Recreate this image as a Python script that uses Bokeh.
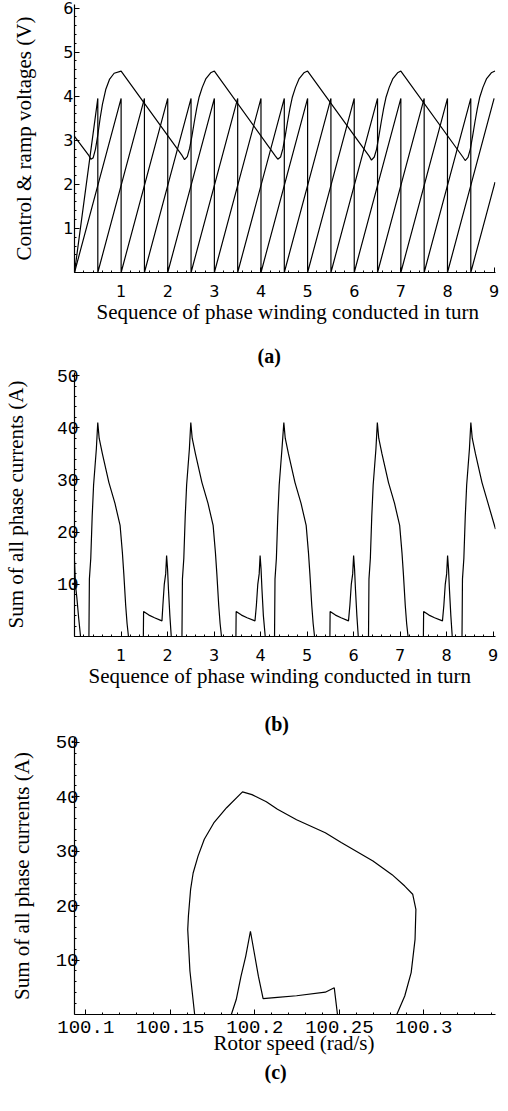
from bokeh.plotting import figure
from bokeh.models import Range1d, FixedTicker, Title, Column
from bokeh.embed import file_html
from bokeh.resources import INLINE

# ---------------- data: panel (a) ----------------
a_xticks = [1, 2, 3, 4, 5, 6, 7, 8, 9]
a_yticks = [1, 2, 3, 4, 5, 6]
ctrl_x = [0.00, 0.31, 0.35, 0.40, 0.45, 0.50, 0.55, 0.60, 0.67, 0.75, 0.85, 1.00,
          2.31, 2.36, 2.42, 2.47, 2.52, 2.57, 2.62, 2.67, 2.74, 2.82, 2.92, 3.00,
          4.31, 4.36, 4.42, 4.47, 4.52, 4.57, 4.62, 4.67, 4.74, 4.82, 4.92, 5.00,
          6.32, 6.37, 6.43, 6.48, 6.53, 6.58, 6.63, 6.68, 6.75, 6.83, 6.93, 7.00,
          8.33, 8.38, 8.44, 8.49, 8.54, 8.59, 8.64, 8.69, 8.76, 8.84, 8.94, 9.02]
ctrl_y = [3.09, 2.65, 2.57, 2.60, 2.80, 3.12, 3.50, 3.82, 4.15, 4.38, 4.52, 4.57,
          2.65, 2.56, 2.63, 2.82, 3.10, 3.42, 3.72, 3.97, 4.20, 4.40, 4.53, 4.57,
          2.64, 2.57, 2.62, 2.81, 3.10, 3.42, 3.72, 3.97, 4.20, 4.40, 4.53, 4.57,
          2.64, 2.55, 2.62, 2.80, 3.10, 3.42, 3.72, 3.97, 4.20, 4.40, 4.53, 4.57,
          2.62, 2.54, 2.61, 2.80, 3.10, 3.42, 3.72, 3.97, 4.20, 4.40, 4.53, 4.57]
ramp_a_x = [0.00, 1.00, 1.00, 2.00, 2.00, 3.00, 3.00, 4.00, 4.00, 5.00, 5.00,
            6.00, 6.00, 7.00, 7.00, 8.00, 8.00, 9.00]
ramp_a_y = [0.00, 3.95, 0.00, 3.95, 0.00, 3.95, 0.00, 3.95, 0.00, 3.95, 0.00,
            3.95, 0.00, 3.95, 0.00, 3.95, 0.00, 3.95]
ramp_b_x = [0.00, 0.50, 0.50, 1.50, 1.50, 2.50, 2.50, 3.50, 3.50, 4.50, 4.50,
            5.50, 5.50, 6.50, 6.50, 7.50, 7.50, 8.50, 8.50, 9.02]
ramp_b_y = [0.00, 3.95, 0.00, 3.95, 0.00, 3.95, 0.00, 3.95, 0.00, 3.95, 0.00,
            3.95, 0.00, 3.95, 0.00, 3.95, 0.00, 3.95, 0.00, 2.05]

# ---------------- data: panel (b) ----------------
b_xticks = [1, 2, 3, 4, 5, 6, 7, 8, 9]
b_yticks = [10, 20, 30, 40, 50]
cur_x = [0.00, 0.02, 0.05, 0.09, 0.13,
         0.31, 0.32, 0.35, 0.38, 0.41, 0.44, 0.47, 0.50, 0.53, 0.60, 0.74, 0.87, 0.98, 1.03, 1.06, 1.10, 1.13, 1.16,
         1.48, 1.485, 1.60, 1.72, 1.88, 1.90, 1.93, 1.96, 1.98, 2.00, 2.02, 2.05, 2.08,
         2.31, 2.32, 2.35, 2.38, 2.41, 2.44, 2.47, 2.50, 2.53, 2.60, 2.74, 2.87, 2.98, 3.03, 3.06, 3.10, 3.13, 3.16,
         3.47, 3.475, 3.59, 3.71, 3.88, 3.91, 3.94, 3.97, 3.99, 4.01, 4.03, 4.06, 4.10,
         4.30, 4.31, 4.34, 4.37, 4.40, 4.43, 4.46, 4.50, 4.53, 4.60, 4.74, 4.87, 4.98, 5.03, 5.06, 5.10, 5.13, 5.16,
         5.49, 5.495, 5.61, 5.73, 5.89, 5.92, 5.95, 5.98, 6.00, 6.02, 6.04, 6.07, 6.10,
         6.32, 6.33, 6.36, 6.39, 6.42, 6.45, 6.48, 6.51, 6.54, 6.61, 6.75, 6.88, 6.99, 7.04, 7.07, 7.11, 7.14, 7.17,
         7.50, 7.505, 7.62, 7.74, 7.91, 7.94, 7.97, 8.00, 8.02, 8.04, 8.06, 8.09, 8.12,
         8.33, 8.34, 8.37, 8.40, 8.43, 8.46, 8.49, 8.52, 8.55, 8.62, 8.76, 8.89, 9.05]
cur_y = [14.5, 10.0, 7.5, 3.5, 0.0,
         0.0, 11.0, 15.0, 23.0, 29.0, 32.5, 36.0, 41.0, 38.0, 35.0, 29.5, 25.5, 21.3, 16.0, 12.0, 6.0, 2.5, 0.0,
         0.0, 4.8, 4.1, 3.6, 3.0, 6.0, 10.0, 12.0, 15.5, 13.0, 9.0, 4.0, 0.0,
         0.0, 11.0, 15.0, 23.0, 29.0, 32.5, 36.0, 41.0, 38.0, 35.0, 29.5, 25.5, 21.3, 16.0, 12.0, 6.0, 2.5, 0.0,
         0.0, 4.8, 4.1, 3.6, 3.0, 6.0, 10.0, 12.0, 15.5, 13.0, 9.0, 4.0, 0.0,
         0.0, 11.0, 15.0, 23.0, 29.0, 32.5, 36.0, 41.0, 38.0, 35.0, 29.5, 25.5, 21.3, 16.0, 12.0, 6.0, 2.5, 0.0,
         0.0, 4.8, 4.1, 3.6, 3.0, 6.0, 10.0, 12.0, 15.5, 13.0, 9.0, 4.0, 0.0,
         0.0, 11.0, 15.0, 23.0, 29.0, 32.5, 36.0, 41.0, 38.0, 35.0, 29.5, 25.5, 21.3, 16.0, 12.0, 6.0, 2.5, 0.0,
         0.0, 4.8, 4.1, 3.6, 3.0, 6.0, 10.0, 12.0, 15.5, 13.0, 9.0, 4.0, 0.0,
         0.0, 11.0, 15.0, 23.0, 29.0, 32.5, 36.0, 41.0, 38.0, 35.0, 29.5, 25.5, 20.6]

# ---------------- data: panel (c) ----------------
c_xticks = [100.1, 100.15, 100.2, 100.25, 100.3]
c_xlabels = {100.1: "100.1", 100.15: "100.15", 100.2: "100.2", 100.25: "100.25", 100.3: "100.3"}
c_yticks = [10, 20, 30, 40, 50]
speed = [100.1644, 100.1616, 100.1603, 100.1607, 100.1620, 100.1635, 100.1664, 100.1701,
         100.1757, 100.1833, 100.1927, 100.1983, 100.2068, 100.2134, 100.2247, 100.2417,
         100.2511, 100.2699, 100.2812, 100.2887, 100.2934, 100.2953, 100.2948, 100.2925,
         100.2887, 100.2840, 100.2489, 100.2470, 100.2417, 100.2247, 100.2134, 100.2049,
         100.2021, 100.1974, 100.1946, 100.1918, 100.1890, 100.1861, 100.1644]
current = [0.0, 8.0, 15.6, 18.1, 23.0, 26.0, 29.1, 32.2,
           35.2, 38.0, 40.9, 40.4, 39.1, 37.7, 35.8, 33.4,
           31.6, 28.2, 25.7, 23.6, 22.1, 19.3, 13.8, 7.7,
           3.4, 0.0, 0.0, 4.9, 4.1, 3.45, 3.15, 2.9,
           7.05, 15.3, 10.7, 7.0, 2.75, 0.0, 0.0]

SERIF = "Liberation Serif"
MONO = "Liberation Mono"
SANS = "DejaVu Sans"


def style(p, xfont, xsize, yfont, ysize, ystandoff):
    p.outline_line_color = None
    p.xgrid.visible = False
    p.ygrid.visible = False
    p.background_fill_color = "white"
    p.border_fill_color = "white"
    for ax in (p.xaxis[0], p.yaxis[0]):
        ax.axis_line_color = "black"
        ax.axis_line_width = 1.2
        ax.major_tick_line_color = "black"
        ax.minor_tick_line_color = "black"
        ax.major_tick_in = 5
        ax.major_tick_out = 0
        ax.minor_tick_in = 2
        ax.minor_tick_out = 0
        ax.major_label_text_color = "black"
        ax.axis_label_text_color = "black"
        ax.axis_label_text_font = SERIF
        ax.axis_label_text_font_style = "normal"
        ax.axis_label_text_font_size = "21px"
    p.xaxis[0].major_label_text_font = xfont
    p.xaxis[0].major_label_text_font_size = xsize
    p.yaxis[0].major_label_text_font = yfont
    p.yaxis[0].major_label_standoff = ystandoff
    p.yaxis[0].major_label_text_font_size = ysize


def tag_title(p, text, offset, standoff):
    t = p.title
    t.text = text
    t.align = "left"
    t.offset = offset
    t.standoff = standoff
    t.vertical_align = "bottom"
    t.text_font = SERIF
    t.text_font_size = "20px"
    t.text_font_style = "bold"
    t.text_color = "black"


def below_title(p, text, size, offset, standoff, valign="bottom", bold=False):
    p.add_layout(Title(text=text, align="left", offset=offset, standoff=standoff,
                       vertical_align=valign, text_font=SERIF, text_font_size=size,
                       text_font_style="bold" if bold else "normal", text_color="black"),
                 "below")


# ---------------- panel (a) ----------------
pa = figure(width=500, height=336, output_backend="svg", toolbar_location=None,
            x_range=Range1d(0, 9.03), y_range=Range1d(0, 6.08),
            min_border_left=60, min_border_right=5, min_border_top=4, min_border_bottom=64)
pa.line(ctrl_x, ctrl_y, line_color="black", line_width=1.2)
pa.line(ramp_a_x, ramp_a_y, line_color="black", line_width=1.2)
pa.line(ramp_b_x, ramp_b_y, line_color="black", line_width=1.2)
style(pa, SANS, "16px", SANS, "16px", 1)
pa.xaxis[0].ticker = FixedTicker(ticks=a_xticks, minor_ticks=[i * 0.2 for i in range(46)])
pa.yaxis[0].ticker = FixedTicker(ticks=a_yticks, minor_ticks=[i * 0.2 for i in range(31)])
pa.xaxis[0].major_label_standoff = 12
pa.yaxis[0].axis_label = "Control & ramp voltages (V)"
pa.yaxis[0].axis_label_standoff = 24
below_title(pa, "Sequence of phase winding conducted in turn", "21px", 22, -3)

# ---------------- panel (b) ----------------
pb = figure(width=500, height=371, output_backend="svg", toolbar_location=None,
            x_range=Range1d(0, 9.05), y_range=Range1d(0, 50.6),
            min_border_left=68, min_border_right=3, min_border_top=36, min_border_bottom=71)
tag_title(pb, "(a)", 183, 11)
pb.line(cur_x, cur_y, line_color="black", line_width=1.2)
style(pb, SANS, "16px", MONO, "18px", -4)
pb.xaxis[0].ticker = FixedTicker(ticks=b_xticks, minor_ticks=[i * 0.2 for i in range(46)])
pb.yaxis[0].ticker = FixedTicker(ticks=b_yticks, minor_ticks=[i * 2 for i in range(26)])
pb.xaxis[0].major_label_standoff = 12
pb.yaxis[0].axis_label = "Sum of all phase currents (A)"
pb.yaxis[0].axis_label_standoff = 26
below_title(pb, "Sequence of phase winding conducted in turn", "21px", 14, -3)

# ---------------- panel (c) ----------------
pc = figure(width=500, height=388, output_backend="svg", toolbar_location=None,
            x_range=Range1d(100.0933, 100.3424), y_range=Range1d(0, 50.9),
            min_border_left=59, min_border_right=0, min_border_top=30, min_border_bottom=81)
tag_title(pc, "(b)", 190, 5)
pc.line(speed, current, line_color="black", line_width=1.2)
style(pc, MONO, "19px", MONO, "19px", -4)
pc.xaxis[0].ticker = FixedTicker(ticks=c_xticks,
                                 minor_ticks=[100.09 + i * 0.01 for i in range(26)])
pc.xaxis[0].major_label_overrides = c_xlabels
pc.yaxis[0].ticker = FixedTicker(ticks=c_yticks, minor_ticks=[i * 2 for i in range(26)])
pc.xaxis[0].major_label_standoff = 6
pc.yaxis[0].axis_label = "Sum of all phase currents (A)"
pc.yaxis[0].axis_label_standoff = 19
below_title(pc, "Rotor speed (rad/s)", "21px", 139, -9, valign="top")
below_title(pc, "(c)", "20px", 190, 12, valign="bottom", bold=True)

layout = Column(pa, pb, pc, spacing=0)
open("out.html", "w").write(file_html(layout, INLINE))
